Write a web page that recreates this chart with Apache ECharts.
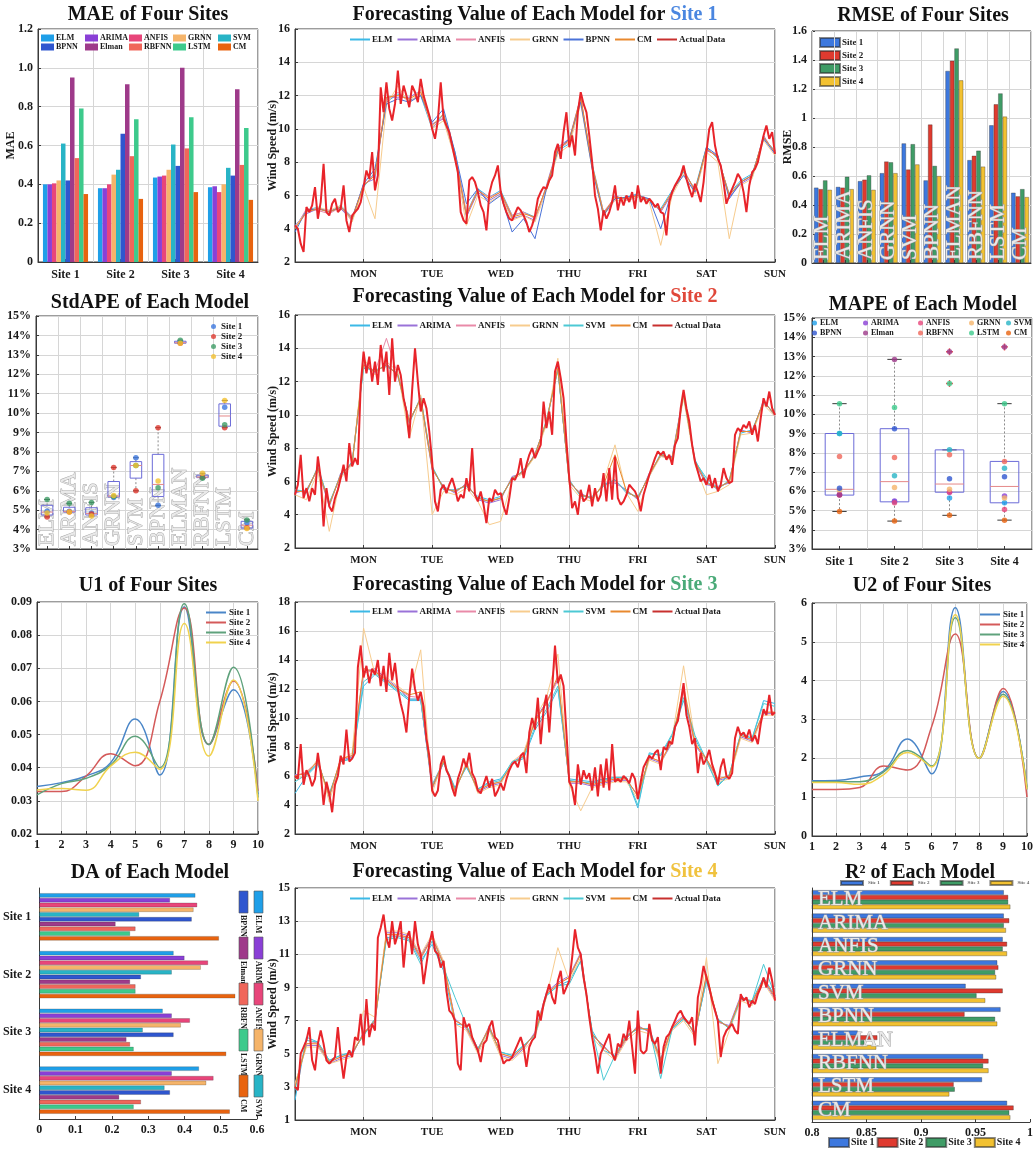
<!DOCTYPE html>
<html>
<head>
<meta charset="utf-8">
<title>Wind speed forecasting - model comparison</title>
<script src="https://cdn.jsdelivr.net/npm/echarts@6/dist/echarts.min.js"></script>
<style>
html,body{margin:0;padding:0;background:#ffffff;}
#chart{width:1036px;height:1152px;}
</style>
</head>
<body>
<div id="chart"></div>
<script>
// ================= DATA =================
const models = ['ELM','ARIMA','ANFIS','GRNN','SVM','BPNN','Elman','RBFNN','LSTM','CM'];
const modelGhost = ['ELM','ARIMA','ANFIS','GRNN','SVM','BPNN','ELMAN','RBFNN','LSTM','CM'];
const sites = ['Site 1','Site 2','Site 3','Site 4'];
const dayTicks = ['','MON','TUE','WED','THU','FRI','SAT','SUN'];
const uSteps = [1,2,3,4,5,6,7,8,9,10];

// MAE per site (model order as `models`)
const maeSite1 = [0.40,0.40,0.405,0.42,0.61,0.42,0.95,0.535,0.79,0.35];
const maeSite2 = [0.38,0.38,0.40,0.45,0.475,0.66,0.915,0.545,0.735,0.325];
const maeSite3 = [0.435,0.44,0.445,0.475,0.605,0.495,1.0,0.585,0.745,0.36];
const maeSite4 = [0.385,0.39,0.36,0.40,0.485,0.445,0.89,0.50,0.69,0.32];

// RMSE per site
const rmseSite1 = [0.52,0.525,0.565,0.62,0.825,0.57,1.325,0.71,0.95,0.485];
const rmseSite2 = [0.51,0.52,0.575,0.70,0.645,0.955,1.395,0.74,1.095,0.46];
const rmseSite3 = [0.57,0.595,0.605,0.695,0.82,0.67,1.48,0.775,1.17,0.51];
const rmseSite4 = [0.505,0.51,0.505,0.62,0.68,0.60,1.26,0.665,1.01,0.455];

// StdAPE (%) per site
const stdSite1 = [4.95,4.95,4.85,5.65,7.7,5.25,13.65,6.7,10.3,4.35];
const stdSite2 = [4.65,4.9,4.8,7.2,6.0,9.25,13.6,6.7,9.25,4.1];
const stdSite3 = [5.55,5.35,5.4,5.7,7.3,6.15,13.75,6.65,9.4,4.5];
const stdSite4 = [4.85,4.9,4.7,5.75,7.3,6.5,13.6,6.9,10.65,4.05];

// MAPE (%) per site
const mapeSite1 = [9.0,5.85,5.8,6.05,9.0,6.15,5.8,7.8,10.55,4.95];
const mapeSite2 = [5.45,5.5,5.4,6.2,6.8,9.25,12.85,7.75,10.35,4.45];
const mapeSite3 = [5.65,5.95,5.95,6.1,8.15,6.65,13.25,7.9,11.6,4.75];
const mapeSite4 = [5.4,5.75,5.05,5.65,7.2,6.75,13.5,7.55,10.55,4.5];

// U1 / U2 at steps 1..10
const u1Site1 = [0.0343,0.0355,0.0375,0.0415,0.0547,0.0378,0.0885,0.047,0.0635,0.032];
const u1Site2 = [0.0328,0.0328,0.0375,0.0442,0.0406,0.060,0.0882,0.047,0.0662,0.033];
const u1Site3 = [0.0318,0.0352,0.0368,0.0408,0.0495,0.040,0.0895,0.047,0.0703,0.031];
const u1Site4 = [0.0333,0.0337,0.0332,0.0405,0.0447,0.0395,0.0835,0.0435,0.0665,0.030];
const u2Site1 = [1.42,1.43,1.52,1.68,2.5,1.6,5.88,2.0,3.72,1.2];
const u2Site2 = [1.2,1.2,1.25,1.8,1.7,2.8,5.2,2.0,3.8,1.0];
const u2Site3 = [1.4,1.4,1.4,1.65,2.2,1.8,5.62,2.0,3.65,1.25];
const u2Site4 = [1.38,1.38,1.33,1.58,2.15,1.78,5.7,2.0,3.6,1.2];

// DA per site
const daSite1 = [0.43,0.36,0.435,0.425,0.275,0.42,0.21,0.265,0.25,0.495];
const daSite2 = [0.37,0.40,0.465,0.445,0.365,0.28,0.25,0.265,0.265,0.54];
const daSite3 = [0.34,0.365,0.415,0.39,0.285,0.37,0.24,0.25,0.26,0.515];
const daSite4 = [0.44,0.365,0.48,0.46,0.345,0.36,0.22,0.28,0.26,0.525];

// R2 per site
const r2Site1 = [0.976,0.976,0.975,0.970,0.941,0.973,0.842,0.957,0.956,0.979];
const r2Site2 = [0.980,0.981,0.979,0.971,0.975,0.940,0.860,0.962,0.930,0.985];
const r2Site3 = [0.980,0.976,0.975,0.968,0.951,0.968,0.848,0.957,0.931,0.981];
const r2Site4 = [0.982,0.978,0.979,0.969,0.959,0.970,0.859,0.962,0.926,0.982];

// Wind speed, actual data (hourly, Sun 00:00 .. Sun 00:00)
const actualStep = 1;   // hours between actual samples
const modelStep = 4;    // hours between forecast samples
const actual1 = [4.2,4.0,3.1,2.6,5.3,5.0,5.4,6.5,4.6,5.6,7.9,5.0,4.8,5.5,5.8,5.0,5.2,6.6,4.5,3.8,4.8,5.0,5.2,5.6,
6.5,7.5,7.0,8.6,6.3,7.2,12.5,11.0,12.8,11.2,10.5,11.5,13.5,11.5,12.6,12.0,11.3,12.6,12.2,11.6,13.0,12.0,11.4,10.8,
10.0,9.4,10.5,12.8,10.6,10.2,9.8,9.0,8.2,7.4,5.0,4.5,4.3,6.9,7.1,6.8,6.2,5.4,5.0,3.9,6.1,6.8,7.2,7.8,
6.2,5.5,5.0,4.6,4.5,4.9,5.3,5.1,4.8,4.4,3.8,4.2,4.8,5.8,6.2,6.5,6.4,6.9,7.2,8.6,9.1,8.2,9.8,11.0,
8.9,9.6,8.4,11.0,12.2,11.5,11.0,9.6,8.0,6.0,5.2,3.9,5.1,4.6,5.0,5.6,6.6,5.1,5.9,5.4,6.0,5.6,6.2,5.2,
6.6,5.6,5.9,5.5,5.8,5.6,5.3,5.5,5.0,4.9,3.6,5.6,6.2,6.6,6.9,7.2,7.8,7.0,6.4,5.9,6.7,6.2,5.6,6.8,
8.6,10.0,10.4,9.0,8.2,7.8,6.8,5.5,6.0,6.4,6.8,7.3,7.0,6.2,5.0,6.6,7.4,7.6,8.0,8.8,9.6,10.2,9.4,9.8,8.5];
const actual2 = [5.2,5.8,7.6,5.0,5.6,4.8,5.6,5.2,7.5,6.2,3.3,5.6,4.5,4.2,5.0,5.5,6.2,7.0,6.0,8.3,6.9,7.4,7.0,11.8,
13.8,12.5,13.5,12.0,13.2,11.8,14.2,12.6,13.8,11.2,14.6,12.0,13.0,12.4,11.0,10.2,8.6,11.5,14.0,12.0,10.2,11.0,10.4,9.0,
7.2,4.8,4.2,5.5,5.8,5.3,5.8,6.2,5.6,4.8,5.2,5.0,6.2,5.4,8.0,5.2,4.8,5.4,4.6,3.5,5.0,4.8,5.5,5.2,
5.3,4.5,4.0,5.0,6.2,6.1,6.5,7.4,6.2,7.0,7.6,8.0,7.4,7.8,8.2,10.8,9.2,10.2,8.8,12.6,13.2,12.2,11.0,8.4,
6.2,4.4,4.8,4.0,5.5,4.8,5.0,5.8,4.5,5.6,4.8,5.2,6.5,4.8,6.8,4.9,7.5,5.0,4.6,4.8,5.2,5.8,5.6,5.4,
5.0,4.2,5.2,5.8,6.4,6.9,7.4,7.8,7.6,7.8,7.3,7.6,7.0,8.2,8.6,10.4,11.5,10.4,9.6,8.2,7.2,6.6,6.0,6.2,
5.8,6.4,5.6,6.2,5.4,5.8,6.8,6.2,5.9,6.0,8.8,9.2,9.0,9.4,9.2,9.6,8.8,9.4,8.4,9.8,11.0,10.5,11.4,10.4,10.0];
const actual3 = [6.0,5.8,8.2,5.4,6.4,6.0,5.3,5.8,7.6,6.2,4.0,5.6,4.8,3.5,5.4,6.0,7.4,6.8,9.2,7.0,7.2,7.6,13.5,15.0,
12.8,13.6,12.4,13.4,13.0,14.0,12.2,13.6,11.8,14.5,12.6,13.8,12.0,11.0,10.2,9.0,11.5,13.4,12.0,11.2,11.8,10.8,8.6,7.4,
5.0,4.6,5.0,6.8,7.4,6.4,6.0,5.2,4.6,5.8,6.4,7.2,6.6,7.6,6.2,5.8,5.0,4.8,5.4,6.0,5.2,5.8,4.6,5.0,
5.5,5.0,5.8,6.4,6.8,7.0,6.6,7.4,7.6,6.2,9.0,10.0,9.2,11.4,8.2,10.6,11.6,9.0,12.0,15.0,12.4,13.0,12.2,9.0,
5.6,5.2,4.0,6.8,5.4,6.4,5.8,6.2,5.0,6.6,4.6,6.8,5.2,7.2,5.0,8.2,5.6,5.8,5.6,6.0,5.8,5.5,6.2,5.8,
4.4,5.6,6.6,7.0,7.4,7.2,7.6,7.8,6.4,8.0,7.8,8.4,8.2,9.4,9.8,11.0,12.4,10.2,9.4,8.2,8.6,6.2,7.6,6.8,
7.2,7.8,6.8,6.2,5.4,6.6,7.2,6.0,5.8,6.2,8.6,9.4,8.8,9.0,8.6,9.2,8.4,8.8,8.2,9.6,10.6,10.2,11.6,10.2,10.4];
const actual4 = [3.0,2.8,5.0,5.4,5.8,6.6,4.6,4.0,5.6,6.4,5.6,4.6,4.4,4.6,4.8,6.6,4.8,3.5,4.8,5.2,4.8,6.0,5.8,7.4,
5.5,8.3,6.0,6.8,6.4,12.0,12.6,13.4,12.0,11.4,13.0,11.6,12.2,13.0,10.2,12.0,12.4,11.0,13.0,11.6,11.0,9.2,10.4,11.6,
12.4,11.2,11.0,10.2,10.6,8.8,7.6,7.4,7.0,4.4,4.0,7.2,6.6,6.8,6.0,5.6,5.2,4.5,5.6,5.8,6.6,7.0,6.0,5.8,
5.0,4.4,4.6,4.6,4.8,5.2,5.6,6.0,5.4,4.2,5.4,5.8,6.0,7.6,7.0,8.0,8.6,9.2,8.4,8.0,9.4,10.0,8.6,9.0,
9.4,10.8,12.5,11.4,11.0,9.6,8.6,7.2,6.0,5.0,3.8,5.0,5.4,5.8,6.2,5.0,4.6,5.6,5.4,6.2,5.8,7.0,5.4,3.8,
7.6,5.2,5.0,5.2,6.8,5.8,5.6,6.0,3.8,5.4,6.0,6.2,6.6,7.0,7.4,7.6,7.2,7.0,6.8,7.2,5.5,8.4,9.2,10.3,
9.6,9.0,8.2,7.6,7.0,4.8,6.0,6.4,6.6,6.8,6.4,6.2,8.6,8.2,8.4,7.8,8.2,8.0,8.6,9.0,9.6,9.0,10.2,9.4,8.2];

// Forecasts (every 4 hours)
const s1ELM   = [4.1,5.1,5.3,5.0,5.4,4.7,6.5,7.4,11.6,12.1,11.7,12.0,10.0,10.9,8.6,4.9,6.4,5.9,6.3,4.8,5.0,4.7,6.4,8.7,9.1,11.7,7.9,5.0,5.8,5.9,6.1,5.6,5.2,6.3,7.4,6.4,8.9,8.2,6.1,6.9,7.3,9.4,8.7];
const s1ARIMA = [4.2,4.9,5.2,5.1,5.2,4.5,6.7,7.0,11.9,11.9,11.9,12.3,10.3,10.6,8.3,4.7,6.2,5.7,6.1,4.6,4.8,4.5,6.6,8.9,9.4,11.9,7.7,4.8,6.0,5.7,5.9,5.8,5.0,6.1,7.6,6.2,8.7,8.4,5.9,6.7,7.1,9.6,8.5];
const s1ANFIS = [4.0,5.2,5.1,4.9,5.3,4.7,6.6,7.3,11.7,12.2,11.6,12.1,10.1,10.7,8.5,4.9,6.3,5.9,6.2,4.8,5.0,4.6,6.5,8.8,9.2,11.8,7.8,5.0,5.9,5.8,6.0,5.7,5.1,6.2,7.5,6.3,8.8,8.3,6.0,6.8,7.2,9.5,8.6];
const s1GRNN  = [4.1,5.0,5.3,5.1,5.4,4.4,6.5,4.6,11.4,12.6,11.5,12.4,10.0,10.5,8.2,4.2,6.0,5.6,6.0,4.5,4.8,4.4,6.3,8.5,9.0,11.5,7.6,4.8,5.7,5.7,5.9,5.6,3.0,6.0,7.3,6.1,8.6,8.0,3.4,6.6,7.0,9.3,8.4];
const s1BPNN  = [3.8,5.1,5.2,5.0,5.3,4.6,6.7,7.6,11.5,11.8,11.6,12.0,10.4,11.2,8.6,5.5,6.4,5.5,6.0,3.8,4.6,3.4,6.4,8.7,9.4,11.6,7.6,4.8,5.8,5.9,6.0,5.8,4.0,6.3,7.2,6.2,8.9,8.4,5.8,6.8,7.2,9.4,8.5];
const s1CM    = [4.0,5.0,5.2,5.0,5.3,4.6,6.6,7.2,11.9,12.0,11.8,12.2,10.2,10.9,8.4,4.8,6.3,5.8,6.2,4.7,4.9,4.7,6.5,8.8,9.3,11.9,7.8,4.9,5.9,5.8,6.0,5.7,5.1,6.2,7.5,6.3,8.8,8.3,6.0,6.8,7.2,9.5,8.6];

const s2ELM   = [5.5,5.3,6.9,4.7,6.3,7.2,12.8,12.7,12.9,12.5,9.5,11.1,6.9,5.5,5.5,5.7,5.1,4.9,5.1,6.1,6.7,7.5,9.7,12.7,6.1,5.1,5.1,5.7,6.1,5.3,5.1,6.3,7.7,7.3,11.1,7.3,6.0,5.5,6.1,8.9,9.1,10.7,10.1];
const s2ARIMA = [5.3,5.5,6.7,4.5,6.5,7.0,13.1,12.5,13.1,12.3,9.7,10.9,6.7,5.7,5.3,5.9,4.9,4.7,4.9,6.3,6.5,7.7,9.5,12.9,5.9,5.3,4.9,5.9,5.9,5.5,4.9,6.5,7.5,7.5,11.3,7.1,5.8,5.7,5.9,9.1,8.9,10.9,9.9];
const s2ANFIS = [5.4,5.4,6.8,4.6,6.4,7.1,13.2,12.6,14.6,12.4,9.6,11.0,6.8,5.6,5.4,5.8,5.0,4.8,5.0,6.2,6.6,7.6,9.6,12.8,6.0,5.2,5.0,5.8,6.0,5.4,5.0,6.4,7.6,7.4,11.2,7.2,5.9,5.6,6.0,9.0,9.0,10.8,10.0];
const s2GRNN  = [5.2,4.9,6.6,3.0,6.2,7.0,13.4,12.4,13.2,12.6,8.6,11.2,4.0,5.4,5.2,5.6,4.8,3.4,3.6,6.1,6.5,7.5,9.4,13.4,5.8,5.0,4.8,6.0,8.2,5.3,4.2,6.3,7.5,7.3,11.0,7.0,5.2,5.4,5.8,8.8,8.9,10.6,9.9];
const s2SVM   = [5.5,5.4,6.8,4.7,6.4,7.1,12.9,12.6,13.0,12.4,9.6,11.0,6.9,5.6,5.4,5.8,5.0,4.8,5.0,6.2,6.6,7.6,9.6,12.7,6.0,5.2,5.0,5.8,6.1,5.4,5.0,6.4,7.6,7.4,11.2,7.2,6.2,5.6,6.0,9.0,9.0,10.8,10.0];
const s2CM    = [5.4,5.4,6.8,4.6,6.4,7.1,13.0,12.6,13.0,12.4,9.6,11.0,6.8,5.6,5.4,5.8,5.0,4.8,5.0,6.2,6.6,7.6,9.6,12.8,6.0,5.2,5.0,5.8,7.6,5.4,5.0,6.4,7.6,7.4,11.2,7.2,5.9,5.6,6.0,9.0,9.0,10.8,10.0];

const s3ELM   = [4.8,6.0,6.8,4.7,7.0,7.2,12.2,13.0,12.4,11.8,11.2,11.2,5.4,7.0,5.2,6.6,5.1,5.6,5.8,6.9,7.2,9.2,10.4,12.0,5.8,5.7,5.6,5.8,5.9,5.9,3.8,7.6,7.4,8.8,11.2,8.6,7.0,5.4,6.1,8.9,8.6,11.2,11.0];
const s3ARIMA = [6.1,6.1,7.1,4.5,7.1,7.3,13.2,13.4,12.7,12.1,11.3,11.3,5.1,6.9,4.9,6.9,4.9,5.3,5.5,6.9,7.5,9.9,11.1,12.7,5.5,5.5,5.3,5.5,5.7,5.7,4.7,7.2,6.9,8.3,11.9,8.1,7.1,5.7,5.9,8.7,8.4,10.3,10.3];
const s3ANFIS = [6.0,6.3,7.0,4.6,7.2,7.4,13.1,13.3,12.6,12.0,11.5,11.4,5.3,7.0,5.0,6.8,5.0,5.4,5.6,6.8,7.4,9.8,11.0,12.6,5.6,5.6,5.4,5.6,5.8,5.8,4.6,7.3,7.0,8.4,11.8,8.2,7.2,5.8,6.0,8.8,8.5,10.4,10.4];
const s3GRNN  = [5.8,6.0,7.2,4.2,7.0,7.6,16.2,13.0,12.8,12.2,11.6,14.7,4.8,7.2,4.8,7.0,4.8,5.2,5.4,7.0,7.6,10.0,11.4,14.4,5.4,3.6,5.2,5.4,5.6,5.6,4.4,7.1,6.8,8.6,13.6,8.4,7.0,5.6,5.8,8.6,8.3,10.2,10.2];
const s3SVM   = [5.6,6.1,6.9,4.8,7.0,7.2,12.5,13.1,12.5,11.9,11.3,11.3,5.3,6.9,5.1,6.7,5.1,5.5,5.7,7.0,7.3,9.4,10.6,12.2,5.7,5.6,5.5,5.7,5.9,5.9,4.0,7.5,7.5,8.9,11.4,8.8,7.1,5.3,6.1,8.9,8.6,11.0,10.8];
const s3CM    = [6.0,6.2,7.0,4.6,7.2,7.4,13.4,13.2,12.6,12.0,11.6,11.8,5.2,7.0,5.0,6.8,5.0,5.4,5.6,6.8,7.4,9.8,11.0,12.9,5.6,5.6,5.4,5.6,5.8,5.8,4.6,7.3,7.0,8.4,12.2,8.2,7.2,5.8,6.0,8.8,8.5,10.4,10.4];

const s4ELM   = [2.2,6.0,5.7,4.6,4.9,5.1,6.1,7.1,12.0,12.1,11.9,10.6,11.6,10.0,6.8,6.7,5.3,6.5,5.1,4.9,5.5,6.1,8.5,9.1,9.4,10.6,6.4,5.2,4.9,6.1,6.5,6.5,4.7,6.5,7.1,6.3,9.4,7.1,6.5,8.3,8.2,9.6,8.5];
const s4ARIMA = [3.1,5.5,5.5,4.4,4.7,4.9,6.3,6.9,12.3,12.3,12.1,10.9,12.1,10.5,7.1,6.5,5.1,6.7,4.9,4.7,5.3,6.3,8.7,9.3,9.7,11.1,6.1,5.5,4.7,5.9,6.7,6.3,4.5,6.7,7.3,6.1,9.7,6.9,6.7,8.5,8.0,9.4,8.3];
const s4ANFIS = [3.1,5.6,5.7,4.5,4.8,5.1,6.2,7.1,12.2,12.1,12.0,10.7,12.0,10.4,7.0,6.6,5.3,6.6,5.0,4.8,5.4,6.2,8.6,9.2,9.6,11.0,6.2,5.4,4.8,6.0,6.6,6.4,4.6,6.6,7.2,6.2,9.6,7.0,6.6,8.4,8.1,9.5,8.4];
const s4GRNN  = [3.2,5.4,5.4,4.4,4.6,4.8,7.6,7.2,12.4,12.4,12.2,11.0,12.2,10.6,6.8,6.4,5.0,6.4,4.8,4.6,5.2,6.0,8.4,11.4,9.4,10.8,6.0,5.2,4.6,5.8,6.4,6.2,4.4,6.4,7.0,6.0,10.8,4.4,6.4,8.2,7.9,9.3,8.2];
const s4SVM   = [2.8,5.8,5.7,4.6,4.9,5.1,6.1,7.1,11.9,12.0,11.8,10.4,11.8,10.2,8.4,6.7,5.3,6.5,5.1,4.9,5.5,6.1,8.5,9.1,9.2,10.6,6.4,3.4,4.9,6.1,6.5,6.5,3.5,6.5,7.1,6.3,9.4,7.1,6.5,8.3,8.2,10.4,8.5];
const s4CM    = [3.0,5.6,5.6,4.5,4.8,5.0,6.2,7.0,12.2,12.2,12.0,10.8,12.0,10.4,7.0,6.6,5.2,6.6,5.0,4.8,5.4,6.2,8.6,9.2,9.6,11.0,6.2,5.4,4.8,6.0,6.6,6.4,4.6,6.6,7.2,6.2,9.8,7.0,6.6,8.4,8.1,9.5,8.4];

const tsNames = [
  ['ELM','ARIMA','ANFIS','GRNN','BPNN','CM'],
  ['ELM','ARIMA','ANFIS','GRNN','SVM','CM'],
  ['ELM','ARIMA','ANFIS','GRNN','SVM','CM'],
  ['ELM','ARIMA','ANFIS','GRNN','SVM','CM']
];
const tsModelData = [
  [s1ELM,s1ARIMA,s1ANFIS,s1GRNN,s1BPNN,s1CM],
  [s2ELM,s2ARIMA,s2ANFIS,s2GRNN,s2SVM,s2CM],
  [s3ELM,s3ARIMA,s3ANFIS,s3GRNN,s3SVM,s3CM],
  [s4ELM,s4ARIMA,s4ANFIS,s4GRNN,s4SVM,s4CM]
];
const tsActual = [actual1, actual2, actual3, actual4];

// ================= STYLE =================
const modelColors = ['#1f9fe8','#8a3fd6','#e8457a','#f5b46a','#28b4c6','#2f56cf','#9e3a8a','#f0665a','#3dca8c','#e8630f'];
const siteColors = ['#3d78de','#df3a2f','#3f9c66','#f2c131'];
const uColors = ['#4a86c8','#d45a5a','#5fa27c','#f0d24e'];
const tsColor = {ELM:'#3bb9e6', ARIMA:'#9a72d8', ANFIS:'#e98aa8', GRNN:'#f7cc8e', BPNN:'#4a72d8', SVM:'#4cc9d4', CM:'#e8892e'};
const titleSiteColors = ['#4a86e0','#e0483a','#4aaa78','#f0c23e'];

const F = "'Liberation Serif','Times New Roman',serif";
const INK = '#1a1a1a';
const lbl = o => Object.assign({fontFamily:F, fontWeight:'bold', fontSize:12, color:INK}, o || {});
const splitL = {show:true, interval:0, lineStyle:{color:'#d6d6d6', width:1}};
const axL = {show:true, onZero:false, lineStyle:{color:'#3a3a3a', width:1}};
const tk = {show:true, inside:true, length:3, lineStyle:{color:'#3a3a3a'}};
const ghost = o => Object.assign({show:true, inside:true, interval:0, fontFamily:F, fontWeight:'normal', fontSize:22, color:'#e9e9e9', textBorderColor:'#a6a6a6', textBorderWidth:1}, o || {});
const strip = n => n.split('|')[0];

const layout = [
  [38,29,220,233],[295,29,480,233],[812,31,219,232],
  [36,316,222,233],[295,315,480,233],[812,318,220,231],
  [37,602,221,232],[295,602,480,232],[812,603,220,233],
  [38,888,219,231],[295,888,480,232],[812,888,220,234]
];
const grid = layout.map((g,i) => ({left:g[0], top:g[1], width:g[2], height:g[3],
  show:(i !== 9 && i !== 11), borderColor:'#3a3a3a', borderWidth:1, backgroundColor:'#ffffff'}));

function vAxis(idx, min, max, interval, fmt, extra) {
  return Object.assign({type:'value', gridIndex:idx, min:min, max:max, interval:interval,
    axisLine:axL, axisTick:tk, splitLine:splitL, axisLabel:lbl({formatter:fmt, margin:5})}, extra || {});
}
function cAxis(idx, data, extra) {
  return Object.assign({type:'category', gridIndex:idx, data:data, axisLine:axL,
    axisTick:{show:true, inside:true, length:3, alignWithLabel:true, lineStyle:{color:'#3a3a3a'}},
    splitLine:splitL, axisLabel:lbl({interval:0, margin:7})}, extra || {});
}
const yName = (name, gap) => ({name:name, nameLocation:'middle', nameGap:gap, nameMoveOverlap:false,
  nameTextStyle:lbl({fontSize:12})});
const dayFmt = v => dayTicks[Math.round(v / 24)] || '';
const tsX = idx => vAxis(idx, 0, 168, 24, dayFmt, {axisLabel:lbl({formatter:dayFmt, margin:7, fontSize:11})});
const pctFmt = v => Math.round(v) + '%';

const xAxis = [
  cAxis(0, sites),
  tsX(1),
  cAxis(2, modelGhost, {axisLabel:ghost({rotate:90, fontSize:21, margin:3}), z:10}),
  cAxis(3, modelGhost, {axisLabel:ghost({rotate:90, fontSize:22, margin:3})}),
  tsX(4),
  cAxis(5, sites),
  vAxis(6, 1, 10, 1, v => String(v)),
  tsX(7),
  vAxis(8, 1, 10, 1, v => String(v)),
  vAxis(9, 0, 0.6, 0.1, v => String(+v.toFixed(1)), {splitLine:{show:false}}),
  tsX(10),
  vAxis(11, 0.8, 1, 0.05, v => String(+v.toFixed(2)), {splitLine:{show:false}})
];
const yAxis = [
  vAxis(0, 0, 1.2, 0.2, v => v === 0 ? '0' : v.toFixed(1), yName('MAE', 21)),
  vAxis(1, 2, 16, 2, null, yName('Wind Speed (m/s)', 16)),
  vAxis(2, 0, 1.6, 0.2, v => String(+v.toFixed(1)), yName('RMSE', 18)),
  vAxis(3, 3, 15, 1, pctFmt),
  vAxis(4, 2, 16, 2, null, yName('Wind Speed (m/s)', 16)),
  vAxis(5, 3, 15, 1, pctFmt),
  vAxis(6, 0.02, 0.09, 0.01, v => v.toFixed(2)),
  vAxis(7, 2, 18, 2, null, yName('Wind Speed (m/s)', 16)),
  vAxis(8, 0, 6, 1, null),
  cAxis(9, sites, {inverse:true, splitLine:{show:false}, axisTick:{show:false}, axisLabel:lbl({margin:8})}),
  vAxis(10, 1, 15, 2, null, yName('Wind Speed (m/s)', 16)),
  cAxis(11, modelGhost, {inverse:true, splitLine:{show:false}, axisTick:{show:false},
    axisLabel:ghost({fontSize:21, margin:6}), z:10})
];

// ---------- box statistics (MATLAB-style percentiles) ----------
function pct(s, p) {
  const n = s.length, pos = n * p / 100 + 0.5;
  if (pos <= 1) return s[0];
  if (pos >= n) return s[n - 1];
  const lo = Math.floor(pos), f = pos - lo;
  return s[lo - 1] + f * (s[lo] - s[lo - 1]);
}
function boxStats(vals) {
  const s = vals.slice().sort((a,b) => a - b);
  const q1 = pct(s,25), md = pct(s,50), q3 = pct(s,75), iqr = q3 - q1;
  const inl = s.filter(v => v >= q1 - 1.5*iqr && v <= q3 + 1.5*iqr);
  return {lo:inl[0], q1:q1, md:md, q3:q3, hi:inl[inl.length-1],
          out:s.filter(v => v < q1 - 1.5*iqr || v > q3 + 1.5*iqr)};
}
function boxItem(params, api) {
  const c = api.value(0);
  const p = i => api.coord([c, api.value(i)]);
  const lo = p(1), q1 = p(2), md = p(3), q3 = p(4), hi = p(5);
  const bw = api.size([1, 0])[0] * 0.52;
  const cx = md[0];
  const dash = {stroke:'#8c8c8c', lineWidth:1, lineDash:[2,2]};
  const cap = {stroke:'#3a3a3a', lineWidth:1};
  return {type:'group', children:[
    {type:'line', shape:{x1:cx, y1:q3[1], x2:cx, y2:hi[1]}, style:dash},
    {type:'line', shape:{x1:cx, y1:q1[1], x2:cx, y2:lo[1]}, style:dash},
    {type:'line', shape:{x1:cx - bw*0.25, y1:hi[1], x2:cx + bw*0.25, y2:hi[1]}, style:cap},
    {type:'line', shape:{x1:cx - bw*0.25, y1:lo[1], x2:cx + bw*0.25, y2:lo[1]}, style:cap},
    {type:'rect', shape:{x:cx - bw/2, y:q3[1], width:bw, height:Math.max(1, q1[1] - q3[1])},
      style:{fill:'none', stroke:'#6b6bd8', lineWidth:1}},
    {type:'line', shape:{x1:cx - bw/2, y1:md[1], x2:cx + bw/2, y2:md[1]}, style:{stroke:'#e58888', lineWidth:1}}
  ]};
}

// ================= SERIES =================
const maeBySite = [maeSite1, maeSite2, maeSite3, maeSite4];
const rmseBySite = [rmseSite1, rmseSite2, rmseSite3, rmseSite4];
const stdBySite = [stdSite1, stdSite2, stdSite3, stdSite4];
const mapeBySite = [mapeSite1, mapeSite2, mapeSite3, mapeSite4];
const u1BySite = [u1Site1, u1Site2, u1Site3, u1Site4];
const u2BySite = [u2Site1, u2Site2, u2Site3, u2Site4];
const daBySite = [daSite1, daSite2, daSite3, daSite4];
const r2BySite = [r2Site1, r2Site2, r2Site3, r2Site4];

const series = [];
// MAE
models.forEach((m,i) => series.push({type:'bar', name:m + '|mae', xAxisIndex:0, yAxisIndex:0,
  data:maeBySite.map(s => s[i]), itemStyle:{color:modelColors[i]}, barGap:'0%', barCategoryGap:'18%', silent:true}));
// RMSE
sites.forEach((s,j) => series.push({type:'bar', name:s + '|rmse', xAxisIndex:2, yAxisIndex:2,
  data:rmseBySite[j], itemStyle:{color:siteColors[j], borderColor:'rgba(40,40,40,0.55)', borderWidth:0.6},
  barGap:'0%', barCategoryGap:'18%', silent:true}));
// StdAPE
const stdBox = models.map((m,i) => { const b = boxStats(stdBySite.map(s => s[i])); return [i, b.lo, b.q1, b.md, b.q3, b.hi]; });
series.push({type:'custom', name:'stdbox', xAxisIndex:3, yAxisIndex:3, renderItem:boxItem, data:stdBox,
  encode:{x:0, y:[1,2,3,4,5]}, z:1, silent:true});
sites.forEach((s,j) => series.push({type:'scatter', name:s + '|std', xAxisIndex:3, yAxisIndex:3,
  data:stdBySite[j].map((v,i) => [i, v]), symbolSize:5.5, itemStyle:{color:siteColors[j]}, z:3, silent:true}));
// MAPE
const mapeStats = sites.map((s,j) => boxStats(mapeBySite[j]));
series.push({type:'custom', name:'mapebox', xAxisIndex:5, yAxisIndex:5, renderItem:boxItem,
  data:mapeStats.map((b,j) => [j, b.lo, b.q1, b.md, b.q3, b.hi]), encode:{x:0, y:[1,2,3,4,5]}, z:1, silent:true});
const mapeOut = [];
mapeStats.forEach((b,j) => b.out.forEach(v => mapeOut.push([j, v])));
series.push({type:'scatter', name:'mapeout', xAxisIndex:5, yAxisIndex:5, data:mapeOut,
  symbol:'path://M4,0H6V4H10V6H6V10H4V6H0V4H4Z', symbolSize:7, itemStyle:{color:'#e03030'}, z:2, silent:true});
models.forEach((m,i) => series.push({type:'scatter', name:m + '|mape', xAxisIndex:5, yAxisIndex:5,
  data:mapeBySite.map((arr,j) => [j, arr[i]]), symbolSize:5.5, itemStyle:{color:modelColors[i]}, z:3, silent:true}));
// U1 / U2
sites.forEach((s,j) => series.push({type:'line', name:s + '|u1', xAxisIndex:6, yAxisIndex:6, smooth:0.45,
  symbol:'none', data:u1BySite[j].map((v,i) => [uSteps[i], v]), lineStyle:{width:1.5, color:uColors[j]},
  itemStyle:{color:uColors[j]}, silent:true}));
sites.forEach((s,j) => series.push({type:'line', name:s + '|u2', xAxisIndex:8, yAxisIndex:8, smooth:0.45,
  symbol:'none', data:u2BySite[j].map((v,i) => [uSteps[i], v]), lineStyle:{width:1.5, color:uColors[j]},
  itemStyle:{color:uColors[j]}, silent:true}));
// DA
models.forEach((m,i) => series.push({type:'bar', name:m + '|da', xAxisIndex:9, yAxisIndex:9,
  data:daBySite.map(s => s[i]), itemStyle:{color:modelColors[i], borderColor:'rgba(40,40,40,0.45)', borderWidth:0.5},
  barGap:'8%', barCategoryGap:'18%', silent:true}));
// R2
sites.forEach((s,j) => series.push({type:'bar', name:s + '|r2', xAxisIndex:11, yAxisIndex:11,
  data:r2BySite[j], itemStyle:{color:siteColors[j], borderColor:'rgba(40,40,40,0.55)', borderWidth:0.6},
  barGap:'0%', barCategoryGap:'18%', silent:true}));
// Time series
const tsAxisIdx = [1,4,7,10];
for (let k = 0; k < 4; k++) {
  const ax = tsAxisIdx[k];
  tsNames[k].forEach((n,j) => series.push({type:'line', name:n + '|ts' + k, xAxisIndex:ax, yAxisIndex:ax,
    symbol:'none', data:tsModelData[k][j].map((v,i) => [i * modelStep, v]),
    lineStyle:{width:1, color:tsColor[n]}, itemStyle:{color:tsColor[n]}, z:2, silent:true}));
  series.push({type:'line', name:'Actual Data|ts' + k, xAxisIndex:ax, yAxisIndex:ax, symbol:'none',
    data:tsActual[k].map((v,i) => [i * actualStep, v]), lineStyle:{width:2, color:'#e8242a'},
    itemStyle:{color:'#c8302e'}, z:3, silent:true});
}

// ================= LEGENDS =================
const legend = [];
const legBase = {selectedMode:false, padding:0, formatter:strip};
[41,85,129,173,218].forEach((x,c) => legend.push(Object.assign({}, legBase, {left:x, top:34, orient:'vertical',
  itemWidth:13, itemHeight:7, itemGap:1, icon:'rect', data:[models[c] + '|mae', models[c+5] + '|mae'],
  textStyle:lbl({fontSize:8, padding:[0,0,0,-3]})})));
[812,863,918,969,1006].forEach((x,c) => legend.push(Object.assign({}, legBase, {left:x, top:319, orient:'vertical',
  itemWidth:5, itemHeight:5, itemGap:2, icon:'circle', data:[models[c] + '|mape', models[c+5] + '|mape'],
  textStyle:lbl({fontSize:8, padding:[0,0,0,-2]})})));
legend.push(Object.assign({}, legBase, {left:819, top:37, orient:'vertical', itemWidth:20, itemHeight:9, itemGap:2,
  icon:'rect', data:sites.map(s => s + '|rmse'), textStyle:lbl({fontSize:9, padding:[0,0,0,-3]})}));
legend.push(Object.assign({}, legBase, {left:211, top:322, orient:'vertical', itemWidth:5, itemHeight:5, itemGap:1,
  icon:'circle', data:sites.map(s => s + '|std'), textStyle:lbl({fontSize:9})}));
legend.push(Object.assign({}, legBase, {left:206, top:608, orient:'vertical', itemWidth:20, itemHeight:2, itemGap:1,
  icon:'rect', data:sites.map(s => s + '|u1'), textStyle:lbl({fontSize:9, padding:[0,0,0,-2]})}));
legend.push(Object.assign({}, legBase, {left:980, top:610, orient:'vertical', itemWidth:20, itemHeight:2, itemGap:1,
  icon:'rect', data:sites.map(s => s + '|u2'), textStyle:lbl({fontSize:9, padding:[0,0,0,-2]})}));
legend.push(Object.assign({}, legBase, {left:828, top:1137, orient:'horizontal', itemWidth:20, itemHeight:9, itemGap:2,
  icon:'rect', data:sites.map(s => s + '|r2'), textStyle:lbl({fontSize:10, padding:[0,0,0,-3]})}));
legend.push(Object.assign({}, legBase, {left:840, top:880, orient:'horizontal', itemWidth:22, itemHeight:4, itemGap:10,
  icon:'rect', data:sites.map(s => s + '|r2'), textStyle:lbl({fontSize:5, color:'#666'})}));
const tsLegTop = [35, 321, 607, 894];
for (let k = 0; k < 4; k++) {
  legend.push(Object.assign({}, legBase, {left:350, top:tsLegTop[k], orient:'horizontal', itemWidth:20, itemHeight:2,
    itemGap:5, icon:'rect', data:tsNames[k].map(n => n + '|ts' + k).concat(['Actual Data|ts' + k]),
    textStyle:lbl({fontSize:9, padding:[0,0,0,-3]})}));
}

// ================= TITLES & DA LEGEND (graphic) =================
const tFont = {fontFamily:F, fontWeight:'bold', fontSize:20};
const graphics = [];
[['MAE of Four Sites',148,15],['RMSE of Four Sites',923,16],['StdAPE of Each Model',150,303],
 ['MAPE of Each Model',923,305],['U1 of Four Sites',148,586],['U2 of Four Sites',922,586],
 ['DA of Each Model',150,873],['R\u00b2 of Each Model',920,873]].forEach(t => graphics.push({type:'text', x:t[1], y:t[2],
   style:Object.assign({text:t[0], fill:'#111', align:'center', verticalAlign:'middle'}, tFont)}));
[15, 297, 585, 872].forEach((y,k) => graphics.push({type:'text', x:535, y:y, style:{
  text:'{a|Forecasting Value of Each Model for }{b|' + sites[k] + '}', align:'center', verticalAlign:'middle',
  rich:{a:Object.assign({fill:'#111'}, tFont), b:Object.assign({fill:titleSiteColors[k]}, tFont)}}}));
models.forEach((m,i) => {
  const col = i < 5 ? 1 : 0, row = i % 5;
  const x = col ? 254 : 239, y = 891 + row * 46;
  graphics.push({type:'rect', shape:{x:x, y:y, width:9, height:22}, style:{fill:modelColors[i], stroke:'#555', lineWidth:0.6}});
  graphics.push({type:'text', x:x + 4.5, y:y + 24, rotation:-Math.PI/2,
    style:{text:m, fontFamily:F, fontWeight:'bold', fontSize:8, fill:INK, align:'left', verticalAlign:'middle'}});
});

const chart = echarts.init(document.getElementById('chart'), null, {renderer:'canvas'});
chart.setOption({
  animation:false,
  backgroundColor:'#ffffff',
  textStyle:{fontFamily:F},
  grid:grid, xAxis:xAxis, yAxis:yAxis, series:series, legend:legend,
  graphic:{elements:graphics}
});
</script>
</body>
</html>
